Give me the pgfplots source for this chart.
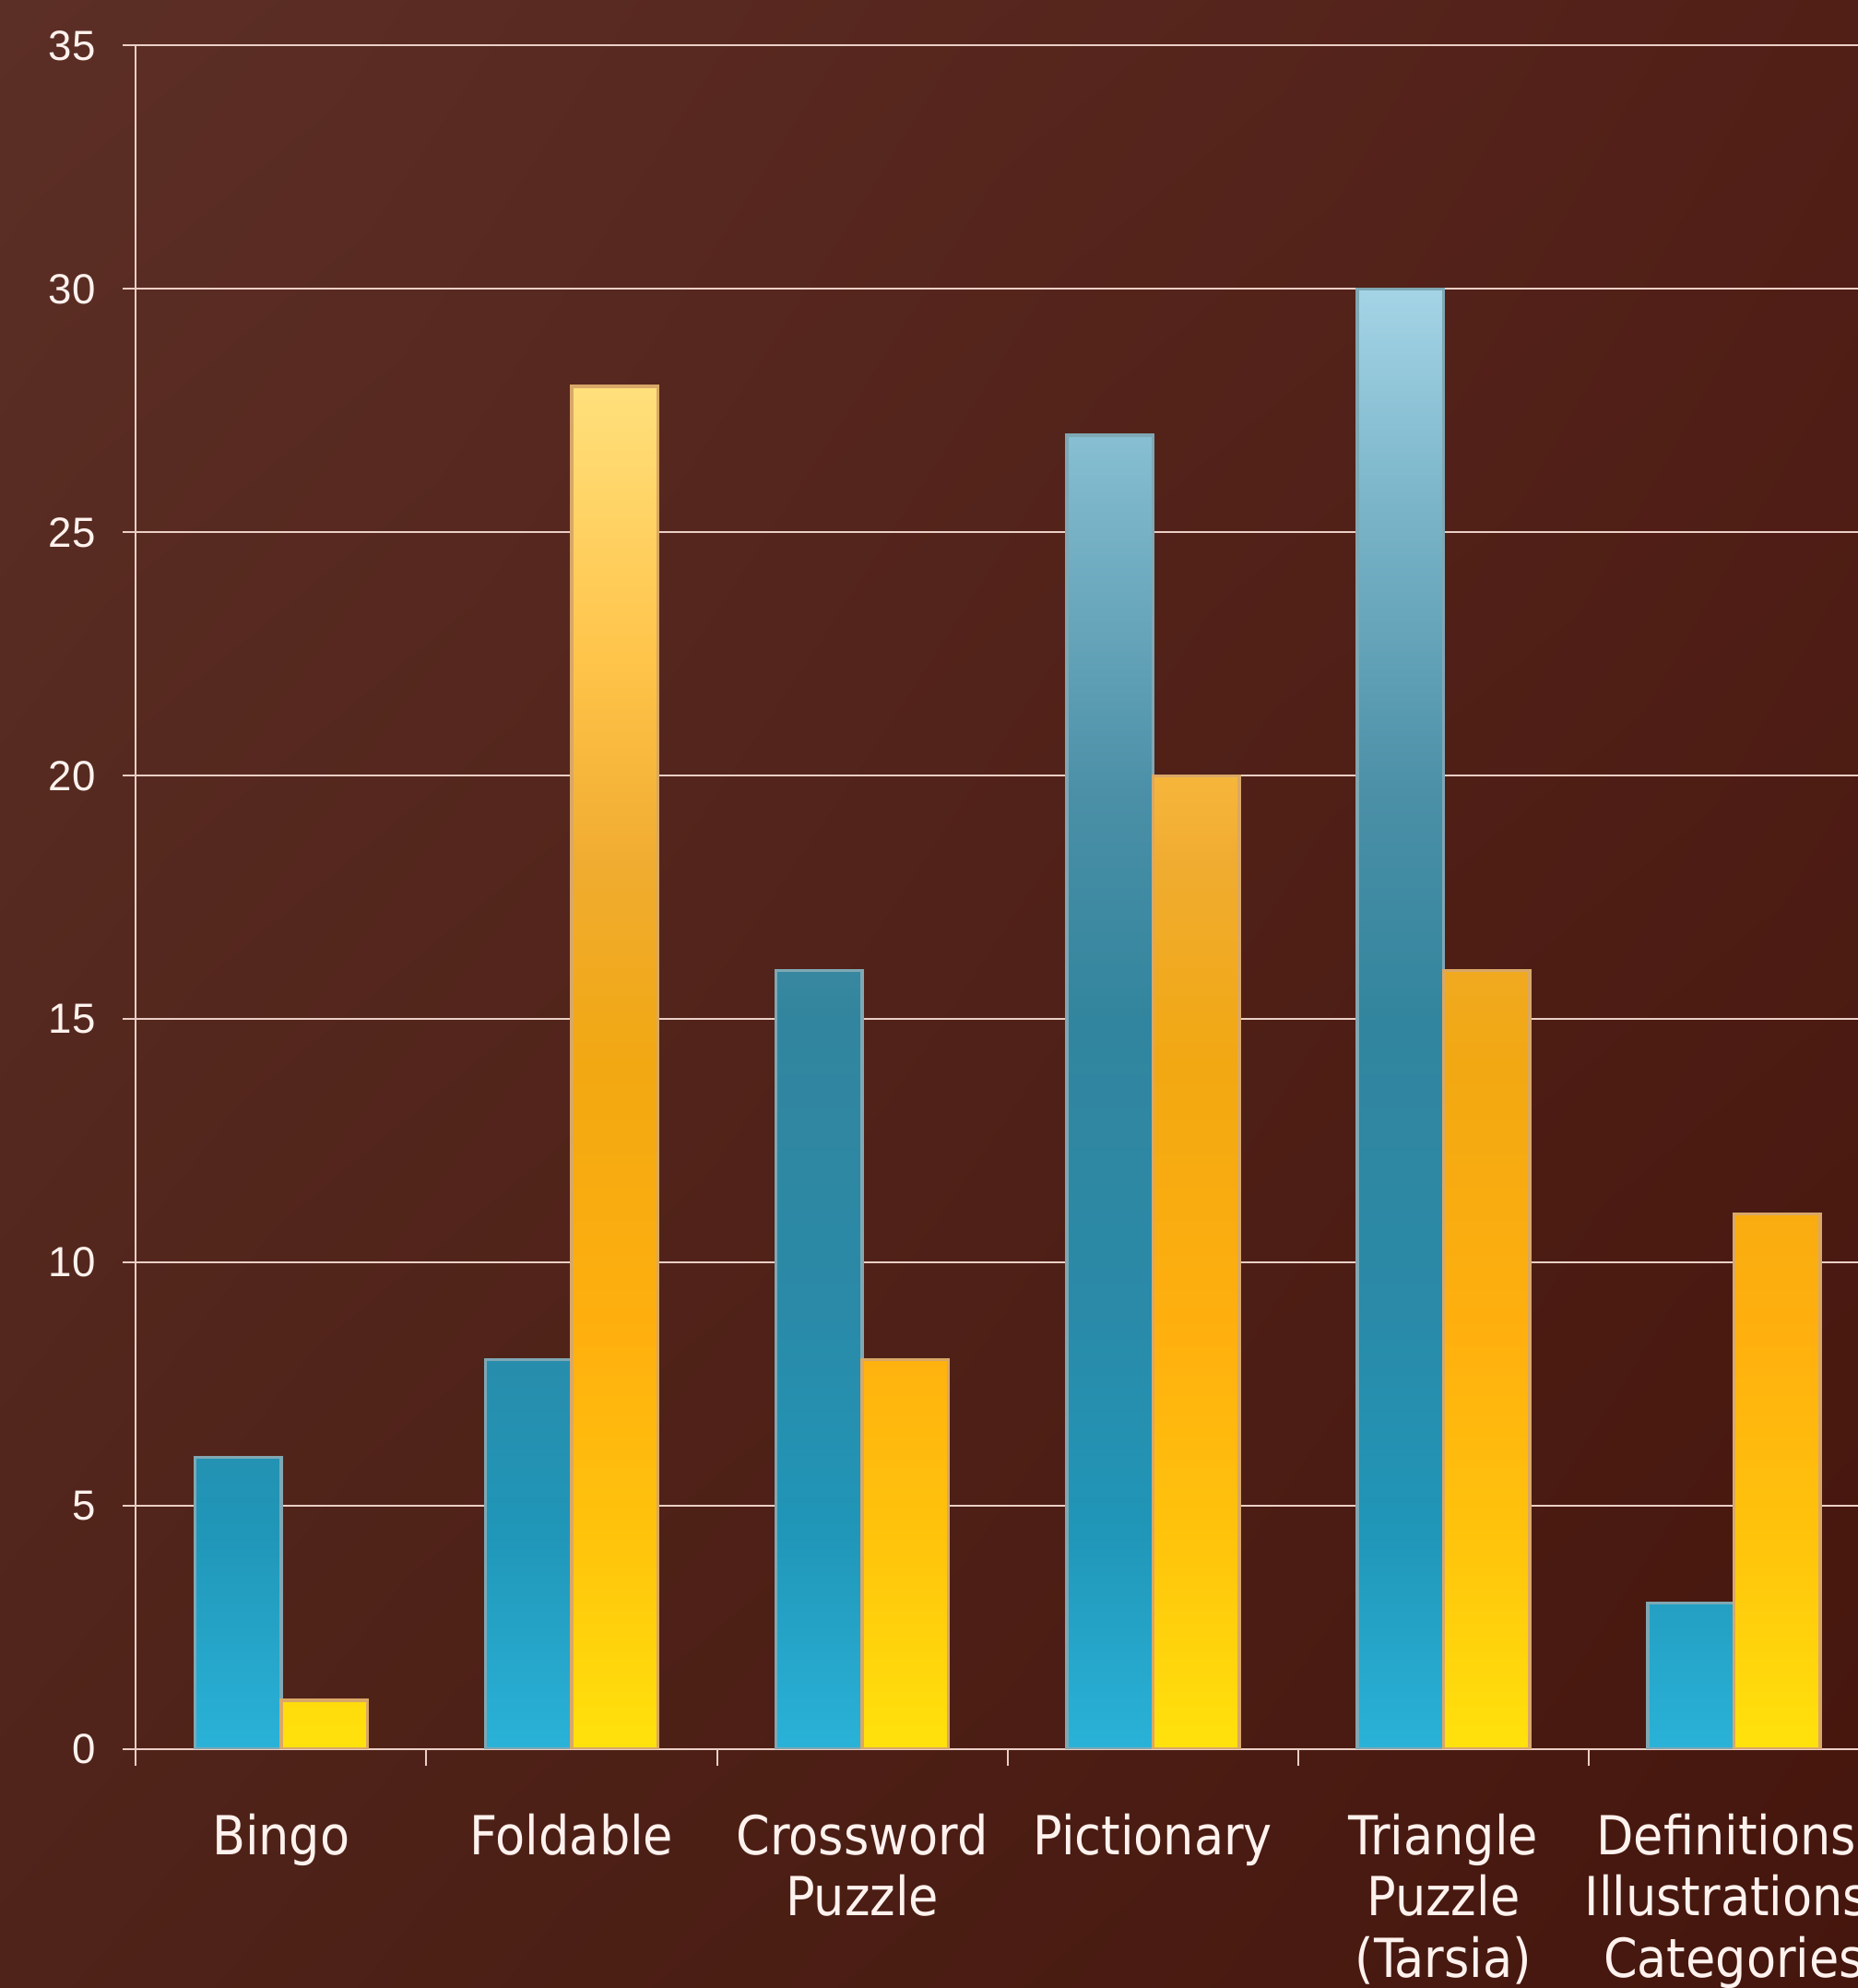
\documentclass[border=0pt]{standalone}
\usepackage{fontspec}
\setmainfont{DejaVu Sans Condensed}
\newfontfamily\numfont{Liberation Sans}
\usepackage{pgfplots}
\pgfplotsset{compat=1.18}
\usetikzlibrary{shadings}

\definecolor{bgUL}{HTML}{5C2F26}
\definecolor{bgUR}{HTML}{521F17}
\definecolor{bgLL}{HTML}{4F2319}
\definecolor{bgLR}{HTML}{45160D}
\definecolor{gridc}{HTML}{EBCFC6}
\definecolor{txt}{HTML}{FFF2EE}
\definecolor{blueedge}{HTML}{7FA8B4}
\definecolor{oredge}{HTML}{D9A868}

% bar gradients, bottom (25bp) to top (75bp)
\pgfdeclareverticalshading{blueshade}{100bp}{%
  color(0bp)=(rgb,255:red,42;green,178;blue,216);
  color(25bp)=(rgb,255:red,42;green,178;blue,216);
  color(32.5bp)=(rgb,255:red,32;green,150;blue,184);
  color(40bp)=(rgb,255:red,42;green,138;blue,168);
  color(50bp)=(rgb,255:red,50;green,133;blue,158);
  color(57.5bp)=(rgb,255:red,74;green,143;blue,166);
  color(67.5bp)=(rgb,255:red,122;green,180;blue,200);
  color(75bp)=(rgb,255:red,164;green,212;blue,230);
  color(100bp)=(rgb,255:red,164;green,212;blue,230)}
\pgfdeclareverticalshading{orshade}{100bp}{%
  color(0bp)=(rgb,255:red,255;green,226;blue,12);
  color(25bp)=(rgb,255:red,255;green,226;blue,12);
  color(32.5bp)=(rgb,255:red,255;green,196;blue,12);
  color(40bp)=(rgb,255:red,255;green,176;blue,14);
  color(50bp)=(rgb,255:red,242;green,168;blue,18);
  color(57.5bp)=(rgb,255:red,240;green,172;blue,48);
  color(65bp)=(rgb,255:red,255;green,196;blue,74);
  color(75bp)=(rgb,255:red,255;green,224;blue,124);
  color(100bp)=(rgb,255:red,255;green,224;blue,124)}

\begin{document}
\begin{tikzpicture}
\useasboundingbox (0,0) rectangle (20.15cm,21.56cm);
\clip (0,0) rectangle (20.15cm,21.56cm);
\shade[upper left=bgUL, upper right=bgUR, lower left=bgLL, lower right=bgLR]
  (0,0) rectangle (20.15cm,21.56cm);
\begin{axis}[
    at={(1.472cm,2.59cm)}, anchor=south west,
    scale only axis,
    width=18.91cm, height=18.475cm,
    ybar=0pt,
    bar width=0.935cm,
    xmin=-0.5, xmax=5.5,
    ymin=0, ymax=35,
    ytick={0,5,...,35},
    xtick={0,...,5},
    minor xtick={-0.5,0.5,...,5.5},
    xticklabels={Bingo, Foldable, {Crossword\\Puzzle}, Pictionary, {Triangle\\Puzzle\\(Tarsia)}, {Definitions,\\Illustrations,\\Categories}},
    axis x line*=bottom, axis y line*=left,
    axis line style={draw=gridc, line width=0.2mm},
    ymajorgrids,
    major grid style={draw=gridc, line width=0.2mm},
    tick align=outside,
    major tick length=1.4mm,
    minor tick length=1.8mm,
    major x tick style={draw=none},
    minor x tick style={draw=gridc, line width=0.2mm},
    y tick style={draw=gridc, line width=0.2mm},
    /pgf/number format/assume math mode=true,
    y tick label style={font=\numfont\fontsize{13pt}{15pt}\selectfont, text=txt, inner sep=0pt, xshift=-2.9mm},
    x tick label style={font=\fontsize{16.6pt}{19pt}\selectfont, text=txt, align=center, inner sep=0pt, yshift=-5.5mm},
]
\addplot[shade, shading=blueshade, draw=blueedge, line width=0.35mm]
  coordinates {(0,6) (1,8) (2,16) (3,27) (4,30) (5,3)};
\addplot[shade, shading=orshade, draw=oredge, line width=0.35mm]
  coordinates {(0,1) (1,28) (2,8) (3,20) (4,16) (5,11)};
\end{axis}
\end{tikzpicture}
\end{document}
